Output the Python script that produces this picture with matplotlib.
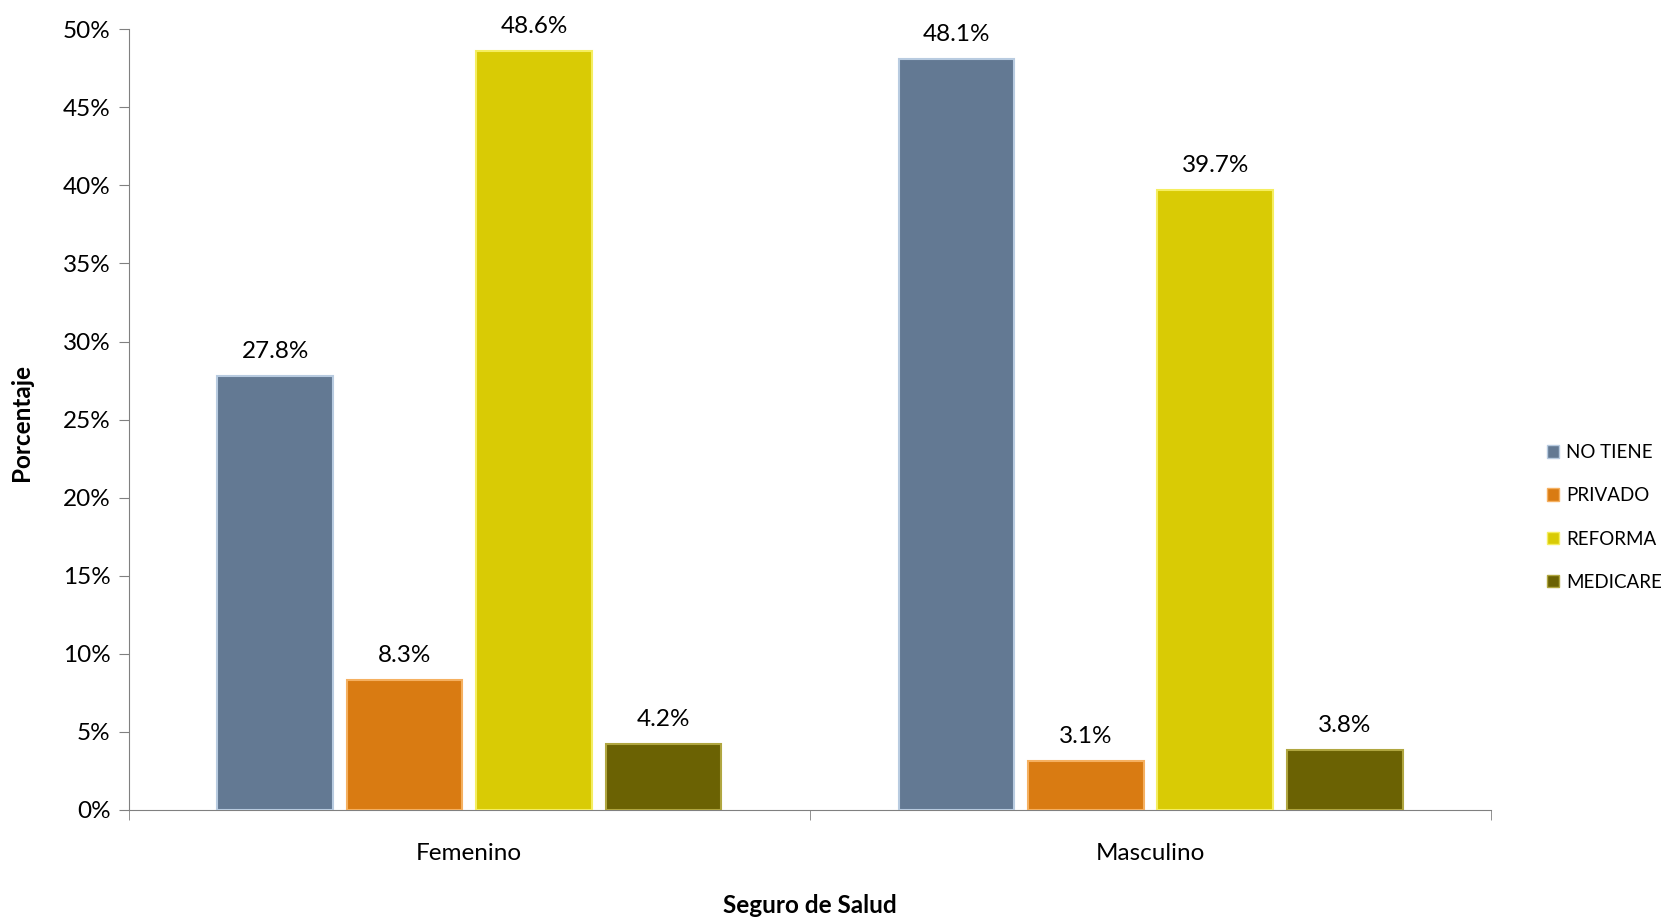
import matplotlib.pyplot as plt
import numpy as np
from matplotlib.patches import Patch

plt.rcParams['font.family'] = ['Lato', 'DejaVu Sans']

categories = ['Femenino', 'Masculino']
series = ['NO TIENE', 'PRIVADO', 'REFORMA', 'MEDICARE']
values = [
    [27.8, 48.1],   # NO TIENE
    [8.3, 3.1],     # PRIVADO
    [48.6, 39.7],   # REFORMA
    [4.2, 3.8],     # MEDICARE
]
colors = ['#637993', '#d97b12', '#d9cb05', '#6b6203']
edges = ['#b8cbe0', '#f5b060', '#f5ee60', '#b0a640']

fig = plt.figure(figsize=(16.7, 9.19), dpi=100)
ax = fig.add_axes([0.077, 0.119, 0.816, 0.849])

x = np.arange(len(categories))
width = 0.17
step = 0.19
for i, name in enumerate(series):
    pos = x + (i - 1.5) * step
    bars = ax.bar(pos, values[i], width, color=colors[i], edgecolor=edges[i],
                  linewidth=1.5, label=name, zorder=3)
    for b, v in zip(bars, values[i]):
        ax.text(b.get_x() + b.get_width() / 2, v + 0.9, f"{v:.1f}%",
                ha='center', va='bottom', fontsize=17.5)

ax.set_xlim(-0.5, 1.5)
ax.set_ylim(0, 50)
ax.set_yticks(np.arange(0, 51, 5))
ax.set_yticklabels([f"{t}%" for t in range(0, 51, 5)], fontsize=17.5)
ax.set_xticks([0, 1])
ax.set_xticklabels(categories, fontsize=17.5)
ax.set_xticks([-0.5, 0.5, 1.5], minor=True)
ax.tick_params(axis='x', which='major', length=0, pad=24)
ax.tick_params(axis='x', which='minor', length=7, color='#808080')
ax.tick_params(axis='y', length=7, color='#808080', pad=6)

for sp in ['top', 'right']:
    ax.spines[sp].set_visible(False)
for sp in ['left', 'bottom']:
    ax.spines[sp].set_color('#808080')

fig.text(0.013, 0.54, 'Porcentaje', rotation=90, ha='center', va='center',
         fontsize=17.5, fontweight='bold')
fig.text(0.485, 0.015, 'Seguro de Salud', ha='center', va='center',
         fontsize=17.5, fontweight='bold')

handles = [Patch(facecolor=c, edgecolor=e, linewidth=1) for c, e in zip(colors, edges)]
fig.legend(handles, series, loc='center left', bbox_to_anchor=(0.922, 0.437),
           frameon=False, fontsize=13.5, handlelength=0.65, handleheight=0.65,
           handletextpad=0.35, labelspacing=1.4, borderaxespad=0)

fig.savefig('out.png', dpi=100)
